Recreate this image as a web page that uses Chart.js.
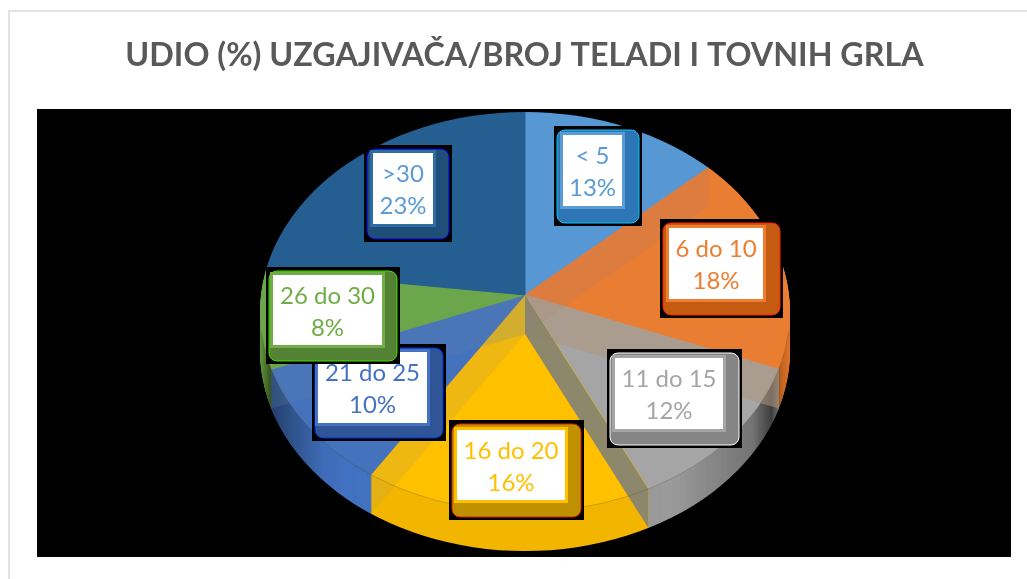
<!DOCTYPE html>
<html><head><meta charset="utf-8">
<style>html,body{margin:0;padding:0;background:#fff}#wrap{position:relative;width:1027px;height:579px;overflow:hidden}
canvas{display:block}
#frame{position:absolute;left:8px;top:10px;right:-5px;bottom:-5px;border-top:2px solid #e2e2e2;border-left:2px solid #e2e2e2}</style>
<script src="https://cdn.jsdelivr.net/npm/chart.js@4"></script></head>
<body><div id="wrap"><canvas id="c" width="1027" height="579"></canvas><div id="frame"></div></div>
<script>
const titleText = 'UDIO (%) UZGAJIVAČA/BROJ TELADI I TOVNIH GRLA';
const categories = ['< 5','6 do 10','11 do 15','16 do 20','21 do 25','26 do 30','>30'];
const shares = [13,18,12,16,10,8,23];
const sliceColors = ['#5797D3','#E97D32','#A5A5A5','#FFC000','#4472BC','#6CA64C','#255E91'];
const wallColors  = ['#5290CA','#E07428','#9A9A9A','#F2B600','#4272C0','#63993F','#22567F'];
const faceColors  = ['rgba(175,125,110,.22)','rgba(175,150,125,.55)','rgba(136,132,112,.96)','rgba(205,165,50,.35)','rgba(90,130,170,.25)'];
const labelTextColors = ['#5B9BD5','#ED7D31','#A5A5A5','#FFC000','#4472C4','#70AD47','#5B9BD5'];
const labelBodyColors = ['#2E75B6','#C55A11','#858585','#BF9000','#2F5597','#548235','#1F4E79'];
const labelRingColors = ['#5B9BD5','#ED7D31','#A5A5A5','#FFC000','#4472C4','#70AD47','#2E6DA4'];
const labelEdgeColors = ['#00C8FF','#FF2000','#FFFFFF','#E02000','#0030E0','#40E000','#0000E0'];
// outer box left, top, right, bottom; white box left, top, right, bottom
const labelBoxes = [
 [557,130,639,223, 563,135,622,206],
 [663,223,780,315, 669,228,763,299],
 [610,353,739,445, 615,358,723,429],
 [452,424,581,517, 457,430,565,500],
 [315,348,443,438, 318,352,427,423],
 [269,271,397,361, 273,275,382,345],
 [367,149,449,239, 373,153,433,224]
];

const APEX = {x:525,y:295}, ELL = {x:525,y:312,rx:265,ry:200}, SQUASH = 0.74, DEPTH = 39;

function ellipsePath(ctx,dy){ctx.beginPath();ctx.ellipse(ELL.x,ELL.y+dy,ELL.rx,ELL.ry,0,0,Math.PI*2);}
function applyPie(ctx,chart){
  const m = chart.getDatasetMeta(0).data[0];
  ctx.translate(APEX.x,APEX.y);ctx.scale(1,SQUASH);ctx.translate(-m.x,-m.y);
}
function rimPoint(a){
  const ux=Math.cos(a), uy=SQUASH*Math.sin(a);
  const ox=APEX.x-ELL.x, oy=APEX.y-ELL.y;
  const A=ux*ux/(ELL.rx*ELL.rx)+uy*uy/(ELL.ry*ELL.ry);
  const B=2*(ox*ux/(ELL.rx*ELL.rx)+oy*uy/(ELL.ry*ELL.ry));
  const C=ox*ox/(ELL.rx*ELL.rx)+oy*oy/(ELL.ry*ELL.ry)-1;
  const t=(-B+Math.sqrt(B*B-4*A*C))/(2*A);
  return {x:APEX.x+t*ux,y:APEX.y+t*uy};
}
function roundRect(ctx,x0,y0,x1,y1,r){ctx.beginPath();ctx.roundRect(x0,y0,x1-x0,y1-y0,r);}

const pie3d = {
  id:'pie3d',
  beforeDatasetsDraw(chart){
    const ctx=chart.ctx, a=chart.chartArea;
    ctx.save();ctx.fillStyle='#000';ctx.fillRect(a.left-1,a.top,a.right-a.left+1,a.bottom-a.top);ctx.restore();
    const els=chart.getDatasetMeta(0).data;
    for(let d=DEPTH;d>=1;d--){
      ctx.save();ellipsePath(ctx,d);ctx.clip();
      ctx.translate(0,d);applyPie(ctx,chart);
      els.forEach((el,i)=>{
        const o=el.options;const t=Object.create(o);
        t.backgroundColor=wallColors[i];t.borderColor=wallColors[i];
        el.options=t;el.draw(ctx);el.options=o;
      });
      ctx.restore();
    }
    // shading of the side wall toward both ends
    ctx.save();ellipsePath(ctx,DEPTH);ctx.clip();
    const g=ctx.createLinearGradient(ELL.x-ELL.rx,0,ELL.x+ELL.rx,0);
    g.addColorStop(0,'rgba(0,0,0,0)');g.addColorStop(.02,'rgba(0,0,0,.45)');g.addColorStop(.06,'rgba(0,0,0,.28)');g.addColorStop(.12,'rgba(0,0,0,.05)');g.addColorStop(.16,'rgba(0,0,0,0)');
    g.addColorStop(.78,'rgba(0,0,0,0)');g.addColorStop(.93,'rgba(0,0,0,.25)');g.addColorStop(.965,'rgba(0,0,0,.6)');g.addColorStop(.985,'rgba(0,0,0,.12)');g.addColorStop(1,'rgba(0,0,0,0)');
    ctx.fillStyle=g;ctx.fillRect(ELL.x-ELL.rx-2,ELL.y-ELL.ry,ELL.rx*2+4,ELL.ry*2+DEPTH+2);
    ctx.restore();
  },
  beforeDatasetDraw(chart){
    const ctx=chart.ctx;ctx.save();ellipsePath(ctx,0);ctx.clip();applyPie(ctx,chart);
  },
  afterDatasetDraw(chart){chart.ctx.restore();},
  afterDatasetsDraw(chart){
    const ctx=chart.ctx, els=chart.getDatasetMeta(0).data;
    [0,1,4,3,2].forEach(i=>{
      const R=rimPoint(els[i].endAngle);
      ctx.fillStyle=faceColors[i];
      ctx.beginPath();ctx.moveTo(APEX.x,APEX.y);ctx.lineTo(R.x,R.y);ctx.lineTo(R.x,R.y+DEPTH);ctx.lineTo(APEX.x,APEX.y+DEPTH);ctx.closePath();ctx.fill();
    });
    ctx.strokeStyle='rgba(70,60,20,.25)';ctx.lineWidth=1;
    ctx.beginPath();ctx.ellipse(ELL.x,ELL.y,ELL.rx,ELL.ry,0,0.1,Math.PI-0.1);ctx.stroke();
    categories.forEach((name,i)=>{
      const b=labelBoxes[i];
      ctx.fillStyle='#000';ctx.fillRect(b[0]-3,b[1]-4,b[2]-b[0]+6,b[3]-b[1]+7);
      roundRect(ctx,b[0],b[1],b[2],b[3],8);ctx.fillStyle=labelBodyColors[i];ctx.fill();
      ctx.lineWidth=1;ctx.strokeStyle=labelEdgeColors[i];ctx.stroke();
      ctx.fillStyle=labelRingColors[i];ctx.fillRect(b[4]-3,b[5]-3,b[6]-b[4]+6,b[7]-b[5]+6);
      ctx.fillStyle='#fff';ctx.fillRect(b[4],b[5],b[6]-b[4],b[7]-b[5]);
      ctx.fillStyle=labelTextColors[i];ctx.font='24px Lato';ctx.textAlign='center';ctx.textBaseline='middle';
      const cx=(b[4]+b[6])/2, cy=(b[5]+b[7])/2;
      ctx.fillText(name,cx,cy-14);ctx.fillText(shares[i]+'%',cx,cy+18);
    });
  }
};

new Chart(document.getElementById('c'),{
  type:'pie',
  data:{labels:categories,datasets:[{data:shares,backgroundColor:sliceColors,borderColor:sliceColors,borderWidth:1,clip:false}]},
  plugins:[pie3d],
  options:{
    responsive:false,animation:false,radius:420,
    layout:{padding:{left:38,right:16,top:0,bottom:22}},
    events:[],
    plugins:{
      legend:{display:false},tooltip:{enabled:false},
      title:{display:true,text:titleText,color:'#595959',font:{family:'Lato',size:32.25,weight:'bold',lineHeight:1.2},padding:{top:36,bottom:34.3}}
    }
  }
});
</script></body></html>
